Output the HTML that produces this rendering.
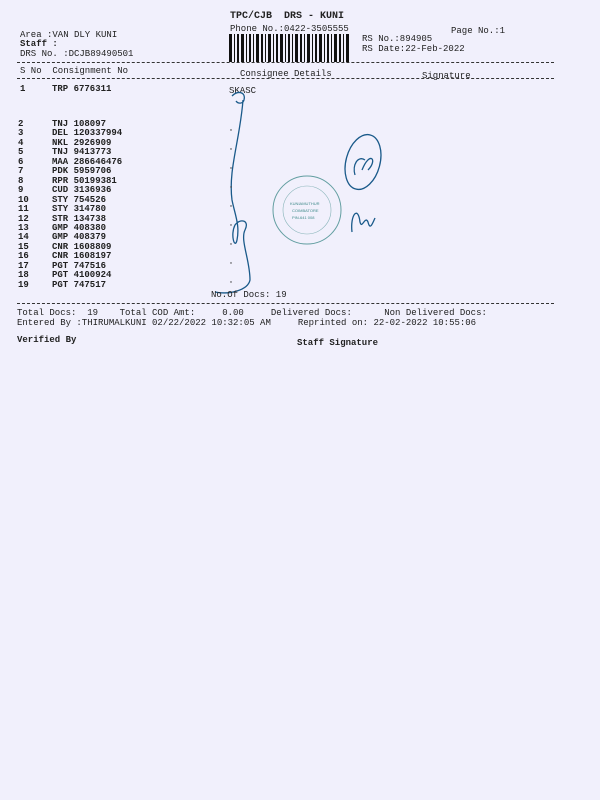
<!DOCTYPE html>
<html><head><meta charset="utf-8"><style>
html,body{margin:0;padding:0}
body{width:600px;height:800px;background:#f1f0fc;position:relative;overflow:hidden;font-family:"Liberation Mono",monospace;font-size:9px;color:#222}
.t{position:absolute;white-space:pre;line-height:10px}
.b{font-weight:bold}
.dl{position:absolute;height:0;border-top:1px dashed #333}
</style></head><body>
<div class="t b" style="left:230px;top:12px;font-size:10px">TPC/CJB  DRS - KUNI</div>
<div class="t" style="left:230px;top:24px">Phone No.:0422-3505555</div>
<div class="t" style="left:451px;top:26px">Page No.:1</div>
<div class="t" style="left:20px;top:30px">Area :VAN DLY KUNI</div>
<div class="t b" style="left:20px;top:39px">Staff :</div>
<div class="t" style="left:20px;top:49px">DRS No. :DCJB89490501</div>
<div class="t" style="left:362px;top:34px">RS No.:894905</div>
<div class="t" style="left:362px;top:44px">RS Date:22-Feb-2022</div>
<svg style="position:absolute;left:229px;top:34px" width="122" height="28">
<g fill="#111">
<rect x="0" y="0" width="3" height="28"/><rect x="5" y="0" width="1" height="28"/><rect x="8" y="0" width="2" height="28"/><rect x="12" y="0" width="3" height="28"/><rect x="17" y="0" width="1" height="28"/><rect x="20" y="0" width="2" height="28"/><rect x="24" y="0" width="1" height="28"/><rect x="27" y="0" width="3" height="28"/><rect x="32" y="0" width="2" height="28"/><rect x="36" y="0" width="1" height="28"/><rect x="39" y="0" width="3" height="28"/><rect x="44" y="0" width="1" height="28"/><rect x="47" y="0" width="2" height="28"/><rect x="51" y="0" width="3" height="28"/><rect x="56" y="0" width="1" height="28"/><rect x="59" y="0" width="2" height="28"/><rect x="63" y="0" width="1" height="28"/><rect x="66" y="0" width="3" height="28"/><rect x="71" y="0" width="2" height="28"/><rect x="75" y="0" width="1" height="28"/><rect x="78" y="0" width="3" height="28"/><rect x="83" y="0" width="1" height="28"/><rect x="86" y="0" width="2" height="28"/><rect x="90" y="0" width="3" height="28"/><rect x="95" y="0" width="1" height="28"/><rect x="98" y="0" width="2" height="28"/><rect x="102" y="0" width="1" height="28"/><rect x="105" y="0" width="3" height="28"/><rect x="110" y="0" width="2" height="28"/><rect x="114" y="0" width="1" height="28"/><rect x="117" y="0" width="3" height="28"/>
</g></svg>
<div class="dl" style="left:17px;top:62px;width:537px"></div>
<div class="t" style="left:20px;top:66px">S No  Consignment No</div>
<div class="t" style="left:240px;top:69px">Consignee Details</div>
<div class="t" style="left:422px;top:71px">Signature</div>
<div class="dl" style="left:17px;top:78px;width:537px"></div>
<div class="t b" style="left:20px;top:84px">1</div>
<div class="t b" style="left:52px;top:84px">TRP 6776311</div>
<div class="t" style="left:229px;top:86px">SKASC</div>
<div class="t b" style="left:18px;top:120px;line-height:9.45px">2
3
4
5
6
7
8
9
10
11
12
13
14
15
16
17
18
19</div>
<div class="t b" style="left:52px;top:120px;line-height:9.45px">TNJ 108097
DEL 120337994
NKL 2926909
TNJ 9413773
MAA 286646476
PDK 5959706
RPR 50199381
CUD 3136936
STY 754526
STY 314780
STR 134738
GMP 408380
GMP 408379
CNR 1608809
CNR 1608197
PGT 747516
PGT 4100924
PGT 747517</div>
<svg style="position:absolute;left:0;top:0" width="600" height="800">
<g fill="none" stroke="#1a5a8a" stroke-width="1.3">
<path d="M232 96 C238 90 246 92 244 100 C243 104 238 104 236 101"/>
<path d="M243 100 C240 140 228 170 232 200 C235 215 240 225 237 240 C235 250 230 235 235 225 C240 218 250 220 245 230 C240 240 250 260 250 280 C248 290 230 295 215 292"/>
<ellipse cx="363" cy="162" rx="17" ry="28" transform="rotate(15 363 162)"/>
<path d="M355 175 C352 165 358 155 365 160 M362 170 C370 150 378 160 368 170"/>
<path d="M352 232 C350 215 358 205 360 222 C362 230 365 215 368 222 C370 230 372 225 375 218"/>
</g>
<circle cx="307" cy="210" r="34" fill="none" stroke="#3f8a8a" stroke-width="1" opacity="0.8"/>
<circle cx="307" cy="210" r="24" fill="none" stroke="#3f8a8a" stroke-width="0.6" opacity="0.6"/>
<text x="290" y="205" font-size="4" fill="#3f8a8a" font-family="Liberation Sans,sans-serif">KUNIAMUTHUR</text>
<text x="292" y="212" font-size="4" fill="#3f8a8a" font-family="Liberation Sans,sans-serif">COIMBATORE</text>
<text x="292" y="219" font-size="4" fill="#3f8a8a" font-family="Liberation Sans,sans-serif">PIN-641 008</text>
<g fill="#333"><circle cx="231" cy="130" r="0.7"/><circle cx="231" cy="149" r="0.7"/><circle cx="231" cy="168" r="0.7"/><circle cx="231" cy="187" r="0.7"/><circle cx="231" cy="206" r="0.7"/><circle cx="231" cy="225" r="0.7"/><circle cx="231" cy="244" r="0.7"/><circle cx="231" cy="263" r="0.7"/><circle cx="231" cy="282" r="0.7"/></g>
</svg>
<div class="t" style="left:211px;top:290px">No.Of Docs: 19</div>
<div class="dl" style="left:17px;top:303px;width:537px"></div>
<div class="t" style="left:17px;top:308px">Total Docs:  19    Total COD Amt:     0.00     Delivered Docs:      Non Delivered Docs:</div>
<div class="t" style="left:17px;top:318px">Entered By :THIRUMALKUNI 02/22/2022 10:32:05 AM     Reprinted on: 22-02-2022 10:55:06</div>
<div class="t b" style="left:17px;top:335px">Verified By</div>
<div class="t b" style="left:297px;top:338px">Staff Signature</div>
</body></html>
